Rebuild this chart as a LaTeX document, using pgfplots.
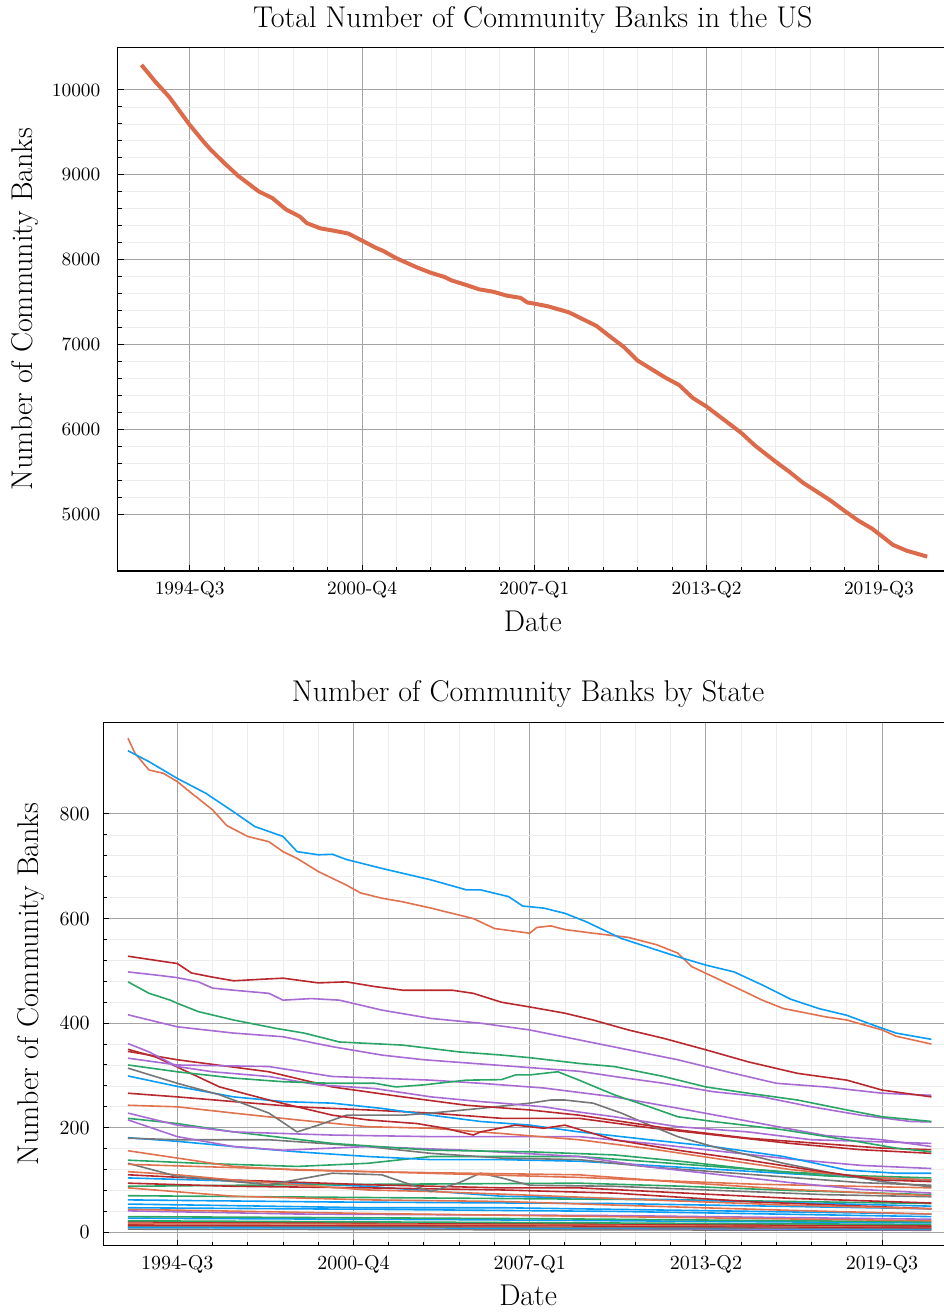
\documentclass[border=0pt]{standalone}
\usepackage{pgfplots}
\pgfplotsset{compat=1.18}

\definecolor{cblue}{HTML}{0B9DF5}
\definecolor{corange}{HTML}{E0724F}
\definecolor{cgreen}{HTML}{2BA566}
\definecolor{cpurple}{HTML}{A86BD4}
\definecolor{cred}{HTML}{B8292E}
\definecolor{cgray}{HTML}{767676}
\definecolor{ctotal}{HTML}{DB6B4A}

\pgfplotsset{
  bankaxis/.style={
    scale only axis,
    anchor=south west,
    scaled ticks=false,
    axis line style={line width=0.75pt, black},
    tick style={black, line width=0.5pt},
    major tick length=3pt,
    minor tick length=2pt,
    tick align=inside,
    tick pos=left,
    minor x tick num=4,
    minor y tick num=4,
    grid=both,
    major grid style={black!36, line width=0.5pt},
    minor grid style={black!7, line width=0.4pt},
    xtick={7978,8003,8028,8053,8078},
    xticklabels={1994-Q3,2000-Q4,2007-Q1,2013-Q2,2019-Q3},
    label style={font=\fontsize{15}{18}\selectfont},
    title style={font=\fontsize{15}{18}\selectfont},
    xlabel={Date},
    ylabel={Number of Community Banks},
    every axis plot/.append style={no markers, line join=round},
  }
}

\begin{document}
\begin{tikzpicture}

% ---------------- total ----------------
\begin{axis}[
  bankaxis,
  at={(58.85pt,370.5pt)},
  width=415.15pt, height=261.85pt,
  xmin=7967.55, xmax=8088.02,
  ymin=4331, ymax=10503,
  ytick={5000,6000,7000,8000,9000,10000},
  yticklabels={5000,6000,7000,8000,9000,10000},
  tick label style={font=\fontsize{9.4}{11}\selectfont},
  xticklabel style={anchor=base, yshift=-11.75pt},
  yticklabel style={anchor=east, inner sep=0pt, xshift=-8.5pt},
  title={Total Number of Community Banks in the US},
  title style={at={(axis description cs:0.5,1)}, anchor=base, yshift=4pt},
  xlabel style={at={(axis description cs:0.5,0)}, anchor=base, yshift=-30.5pt},
  ylabel style={at={(axis description cs:-0.1116,0.5)}, anchor=center},
]
\addplot[ctotal, line width=2pt] coordinates {
(7971,10295) (7972,10197) (7973,10098) (7975,9920) (7976,9810) (7978,9588)
(7980,9391) (7981,9300) (7983,9140) (7985,8990) (7988,8805) (7990,8725)
(7992,8590) (7994,8507) (7995,8430) (7997,8368) (7999,8340) (8001,8308)
(8003,8225) (8005,8140) (8006,8106) (8008,8016) (8011,7908) (8013,7845)
(8015,7795) (8016,7755) (8018,7705) (8020,7650) (8022,7623) (8024,7576)
(8026,7550) (8027,7495) (8028,7482) (8030,7450) (8033,7380) (8035,7300)
(8037,7220) (8039,7093) (8041,6970) (8043,6810) (8045,6710) (8047,6610)
(8049,6523) (8051,6370) (8053,6268) (8055,6145) (8058,5960) (8060,5810)
(8063,5620) (8065,5500) (8067,5370) (8069,5266) (8071,5160) (8073,5040)
(8075,4925) (8077,4830) (8079,4705) (8080,4640) (8082,4571) (8085,4500)
};
\end{axis}

% ---------------- by state ----------------
\begin{axis}[
  bankaxis,
  at={(51.65pt,33.15pt)},
  width=424.85pt, height=261.5pt,
  xmin=7967.5, xmax=8088.06,
  ymin=-25.6, ymax=974.6,
  ytick={0,200,400,600,800},
  yticklabels={0,200,400,600,800},
  tick label style={font=\fontsize{10}{12}\selectfont},
  xticklabel style={anchor=base, yshift=-11.9pt},
  yticklabel style={anchor=east, inner sep=0pt, xshift=-6.7pt},
  title={Number of Community Banks by State},
  title style={at={(axis description cs:0.5,1)}, anchor=base, yshift=4.8pt},
  xlabel style={at={(axis description cs:0.5,0)}, anchor=base, yshift=-29.7pt},
  ylabel style={at={(axis description cs:-0.0851,0.5)}, anchor=center},
  every axis plot/.append style={line width=0.8pt},
]
% small states near the floor
\addplot[cgray] coordinates {(7971,6) (8020,5) (8085,4)};
\addplot[cpurple] coordinates {(7971,10) (8030,8) (8085,5)};
\addplot[cblue] coordinates {(7971,9) (8040,8) (8085,6)};
\addplot[cgray] coordinates {(7971,12) (8020,10) (8085,7)};
\addplot[cred] coordinates {(7971,14) (8040,12) (8085,9)};
\addplot[corange] coordinates {(7971,17) (8030,15) (8085,11)};
\addplot[cred] coordinates {(7971,20) (8030,17) (8085,12)};
\addplot[cgreen] coordinates {(7971,22) (8020,19) (8085,15)};
\addplot[cblue] coordinates {(7971,27) (8020,24) (8085,18)};
\addplot[cgreen] coordinates {(7971,30) (8030,26) (8085,20)};
\addplot[cpurple] coordinates {(7971,41) (7995,35) (8040,32) (8085,25)};
\addplot[corange] coordinates {(7971,44) (8005,36) (8040,30) (8085,22)};
\addplot[cblue] coordinates {(7971,47) (8005,44) (8040,40) (8085,30)};
\addplot[cblue] coordinates {(7971,54) (7986,51) (8005,47) (8024,47) (8050,42) (8085,35)};
\addplot[cblue] coordinates {(7971,62) (8000,58) (8040,55) (8085,45)};
\addplot[cgreen] coordinates {(7971,70) (8020,65) (8050,62) (8085,55)};
% mid-sized states
\addplot[corange] coordinates {(7971,85) (7986,69) (8005,62) (8024,59) (8045,50) (8065,42) (8085,35)};
\addplot[cblue] coordinates {(7971,104) (7986,98) (8005,88) (8024,69) (8035,66) (8055,60) (8085,50)};
\addplot[cgreen] coordinates {(7971,88) (7995,91) (8035,94) (8050,88) (8065,80) (8085,72)};
\addplot[cred] coordinates {(7971,94) (7986,88) (8005,85) (8024,81) (8040,75) (8060,58) (8085,45)};
\addplot[cred] coordinates {(7971,110) (7986,100) (8005,91) (8024,85) (8035,85) (8050,75) (8065,65) (8085,56)};
\addplot[corange] coordinates {(7971,116) (7978,110) (7986,100) (7995,91) (8005,81) (8014,78) (8028,71) (8045,62) (8065,52) (8085,45)};
\addplot[cgray] coordinates {(7971,132) (7978,107) (7991,91) (8000,113) (8007,110) (8014,78) (8018,95) (8021,113) (8024,104) (8028,90) (8040,88) (8055,80) (8070,72) (8085,68)};
\addplot[corange] coordinates {(7971,130) (8000,118) (8035,105) (8060,92) (8085,85)};
\addplot[cgreen] coordinates {(7971,138) (7981,132) (7995,126) (8005,132) (8014,145) (8024,145) (8035,145) (8045,135) (8055,125) (8065,115) (8075,108) (8085,104)};
\addplot[corange] coordinates {(7971,156) (7978,142) (7986,126) (7995,119) (8005,116) (8019,113) (8035,110) (8050,95) (8065,82) (8085,70)};
\addplot[cblue] coordinates {(7971,181) (7978,174) (7986,164) (7995,154) (8005,145) (8014,139) (8024,139) (8035,136) (8045,128) (8055,120) (8065,112) (8075,105) (8085,100)};
\addplot[cgray] coordinates {(7971,180) (7978,177) (7991,177) (8005,164) (8014,151) (8024,142) (8035,139) (8045,125) (8055,115) (8065,105) (8075,95) (8085,90)};
\addplot[cpurple] coordinates {(7971,215) (7978,183) (7986,164) (7993,157) (8005,164) (8019,157) (8035,145) (8045,125) (8055,110) (8065,95) (8075,82) (8085,75)};
\addplot[cgreen] coordinates {(7971,218) (7978,208) (7986,192) (8000,170) (8014,157) (8028,154) (8040,148) (8050,135) (8060,120) (8070,108) (8085,100)};
\addplot[cpurple] coordinates {(7971,228) (7978,205) (7986,192) (8000,186) (8014,183) (8024,183) (8035,183) (8045,170) (8055,155) (8065,140) (8075,128) (8085,122)};
\addplot[corange] coordinates {(7971,243) (7978,240) (7986,228) (7995,215) (8005,202) (8014,199) (8024,189) (8035,177) (8045,160) (8055,140) (8065,120) (8075,106) (8085,100)};
\addplot[cred] coordinates {(7971,266) (7978,259) (7986,250) (7995,240) (8005,234) (8014,228) (8024,218) (8035,218) (8045,200) (8055,185) (8065,170) (8075,158) (8085,151)};
\addplot[cblue] coordinates {(7971,299) (7978,279) (7986,259) (7993,250) (8000,247) (8007,237) (8014,224) (8021,212) (8028,205) (8035,192) (8045,177) (8054,164) (8064,145) (8073,119) (8080,113) (8085,113)};
\addplot[cgray] coordinates {(7971,314) (7978,285) (7984,263) (7991,228) (7995,192) (7998,205) (8002,224) (8010,224) (8014,228) (8021,237) (8028,247) (8031,253) (8033,253) (8037,247) (8041,228) (8045,205) (8049,183) (8054,164) (8059,148) (8064,132) (8071,113) (8078,97) (8085,87)};
\addplot[cred] coordinates {(7971,346) (7978,330) (7991,307) (8000,278) (8010,259) (8019,243) (8028,234) (8035,224) (8040,214) (8049,196) (8059,180) (8068,171) (8078,161) (8085,158)};
\addplot[cred] coordinates {(7971,350) (7975,335) (7978,316) (7984,278) (7991,253) (7995,240) (8000,224) (8005,215) (8012,208) (8016,199) (8020,186) (8021,192) (8026,205) (8030,199) (8033,205) (8040,177) (8049,157) (8059,138) (8068,119) (8078,100) (8085,97)};
\addplot[cpurple] coordinates {(7971,333) (7978,320) (7991,317) (8000,298) (8014,291) (8021,285) (8030,276) (8040,259) (8050,235) (8060,210) (8070,185) (8078,177) (8085,164)};
\addplot[cpurple] coordinates {(7971,361) (7974,345) (7978,317) (7983,307) (7991,298) (7998,282) (8006,275) (8014,259) (8021,250) (8024,247) (8030,240) (8035,230) (8040,221) (8049,202) (8059,192) (8068,177) (8078,173) (8085,170)};
\addplot[cgreen] coordinates {(7971,320) (7978,307) (7986,295) (7993,288) (8000,285) (8006,285) (8009,278) (8013,282) (8019,291) (8024,292) (8026,301) (8028,301) (8032,307) (8035,291) (8040,263) (8045,240) (8049,221) (8054,212) (8064,196) (8073,177) (8080,161) (8085,154)};
% large states
\addplot[cpurple] coordinates {(7971,416) (7978,393) (7986,381) (7993,374) (8000,355) (8007,339) (8013,330) (8019,324) (8028,315) (8035,308) (8040,298) (8047,285) (8054,269) (8061,259) (8068,240) (8075,224) (8082,212) (8085,211)};
\addplot[cgreen] coordinates {(7971,479) (7974,457) (7977,444) (7978,438) (7981,422) (7986,406) (7992,390) (7996,381) (8001,364) (8010,358) (8018,345) (8024,339) (8028,334) (8035,323) (8040,317) (8047,298) (8053,278) (8059,266) (8066,253) (8073,234) (8078,221) (8085,212)};
\addplot[cpurple] coordinates {(7971,498) (7975,492) (7978,487) (7981,479) (7983,467) (7986,463) (7991,457) (7993,444) (7997,447) (8001,444) (8007,425) (8014,409) (8021,400) (8028,387) (8035,368) (8042,349) (8049,330) (8056,307) (8063,285) (8070,278) (8078,266) (8085,262)};
\addplot[cred] coordinates {(7971,528) (7975,520) (7978,514) (7980,496) (7983,488) (7986,481) (7990,484) (7993,486) (7998,477) (8002,479) (8006,470) (8010,463) (8017,463) (8020,457) (8024,440) (8028,431) (8033,419) (8037,406) (8042,387) (8047,371) (8053,349) (8059,326) (8066,304) (8073,291) (8078,272) (8085,259)};
\addplot[corange] coordinates {(7971,945) (7972,916) (7974,884) (7976,878) (7978,862) (7980,840) (7983,808) (7985,778) (7988,757) (7991,747) (7993,728) (7995,715) (7998,690) (8000,677) (8002,664) (8004,649) (8007,639) (8010,632) (8014,620) (8017,610) (8020,600) (8023,581) (8028,572) (8029,583) (8031,586) (8033,579) (8037,572) (8042,564) (8046,550) (8049,534) (8051,508) (8054,489) (8059,457) (8061,444) (8064,428) (8070,412) (8073,406) (8078,387) (8080,375) (8085,360)};
\addplot[cblue] coordinates {(7971,921) (7974,900) (7978,868) (7982,840) (7986,804) (7989,776) (7993,757) (7995,728) (7998,722) (8000,723) (8002,713) (8007,696) (8014,674) (8019,655) (8021,655) (8025,642) (8027,624) (8030,620) (8033,610) (8036,594) (8041,562) (8046,540) (8049,527) (8053,511) (8057,498) (8061,473) (8065,446) (8069,428) (8073,415) (8077,395) (8080,381) (8085,369)};
\end{axis}

\pgfresetboundingbox
\path[use as bounding box] (0,0) rectangle (471.5pt,656pt);
\end{tikzpicture}
\end{document}
